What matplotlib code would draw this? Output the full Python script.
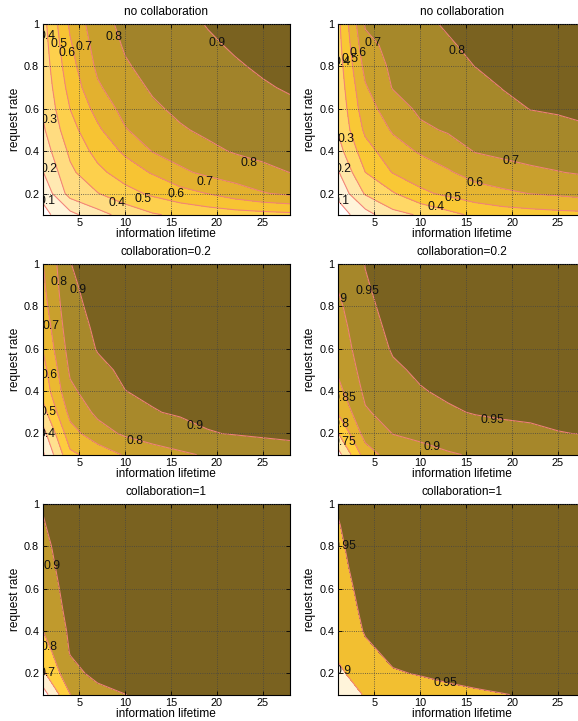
import numpy as np
import matplotlib.pyplot as plt

plt.rcParams['font.family'] = ['Liberation Sans', 'DejaVu Sans']

# grid of the simulation: columns = information lifetime, rows = request rate
lifetime = [1, 4, 7, 10, 13, 16, 19, 22, 25, 28]
request_rate = [0.1, 0.2, 0.3, 0.4, 0.5, 0.6, 0.7, 0.8, 0.9, 1.0]

# hit ratio, no collaboration (left)
hit_nocollab_a = [
    [0.07, 0.17, 0.265, 0.335, 0.39, 0.42, 0.44, 0.455, 0.465, 0.475],
    [0.123, 0.339, 0.396, 0.464, 0.518, 0.563, 0.602, 0.65, 0.693, 0.719],
    [0.194, 0.38, 0.474, 0.549, 0.609, 0.68, 0.723, 0.752, 0.778, 0.801],
    [0.245, 0.419, 0.534, 0.617, 0.704, 0.746, 0.781, 0.807, 0.823, 0.837],
    [0.283, 0.464, 0.582, 0.693, 0.749, 0.791, 0.816, 0.835, 0.851, 0.865],
    [0.309, 0.501, 0.634, 0.733, 0.786, 0.818, 0.839, 0.858, 0.874, 0.888],
    [0.325, 0.534, 0.686, 0.764, 0.811, 0.837, 0.859, 0.877, 0.894, 0.906],
    [0.339, 0.563, 0.719, 0.791, 0.828, 0.854, 0.876, 0.894, 0.908, 0.919],
    [0.351, 0.588, 0.743, 0.809, 0.843, 0.869, 0.891, 0.907, 0.919, 0.93],
    [0.362, 0.617, 0.764, 0.823, 0.856, 0.882, 0.903, 0.917, 0.929, 0.94],
]
# hit ratio, no collaboration (right)
hit_nocollab_b = [
    [0.05, 0.16, 0.27, 0.31, 0.37, 0.42, 0.45, 0.46, 0.47, 0.475],
    [0.123, 0.31, 0.39, 0.48, 0.52, 0.56, 0.58, 0.602, 0.615, 0.635],
    [0.189, 0.40, 0.505, 0.55, 0.59, 0.635, 0.665, 0.685, 0.697, 0.71],
    [0.259, 0.46, 0.56, 0.61, 0.65, 0.705, 0.72, 0.73, 0.74, 0.75],
    [0.306, 0.52, 0.61, 0.68, 0.71, 0.73, 0.75, 0.765, 0.775, 0.79],
    [0.32, 0.56, 0.65, 0.72, 0.74, 0.75, 0.775, 0.802, 0.81, 0.82],
    [0.335, 0.59, 0.705, 0.74, 0.76, 0.77, 0.803, 0.82, 0.83, 0.84],
    [0.348, 0.63, 0.72, 0.755, 0.775, 0.801, 0.82, 0.835, 0.845, 0.855],
    [0.36, 0.67, 0.73, 0.77, 0.79, 0.82, 0.835, 0.85, 0.86, 0.87],
    [0.37, 0.71, 0.74, 0.78, 0.81, 0.83, 0.845, 0.86, 0.87, 0.88],
]
# hit ratio, collaboration=0.2 (left)
hit_collab02_a = [
    [0.28, 0.58, 0.64, 0.71, 0.76, 0.785, 0.81, 0.83, 0.84, 0.85],
    [0.36, 0.66, 0.76, 0.815, 0.84, 0.865, 0.895, 0.905, 0.915, 0.925],
    [0.46, 0.73, 0.82, 0.865, 0.895, 0.91, 0.92, 0.925, 0.93, 0.935],
    [0.53, 0.78, 0.855, 0.899, 0.915, 0.925, 0.93, 0.935, 0.94, 0.945],
    [0.56, 0.815, 0.88, 0.915, 0.93, 0.935, 0.94, 0.945, 0.95, 0.952],
    [0.601, 0.84, 0.905, 0.925, 0.94, 0.945, 0.95, 0.953, 0.955, 0.958],
    [0.63, 0.86, 0.915, 0.935, 0.945, 0.95, 0.955, 0.958, 0.96, 0.962],
    [0.66, 0.875, 0.925, 0.94, 0.95, 0.955, 0.96, 0.962, 0.965, 0.966],
    [0.68, 0.887, 0.932, 0.945, 0.955, 0.96, 0.963, 0.965, 0.968, 0.97],
    [0.695, 0.898, 0.94, 0.95, 0.96, 0.965, 0.967, 0.97, 0.972, 0.974],
]
# hit ratio, collaboration=0.2 (right)
hit_collab02_b = [
    [0.68, 0.825, 0.875, 0.885, 0.895, 0.905, 0.91, 0.915, 0.92, 0.922],
    [0.747, 0.87, 0.901, 0.91, 0.925, 0.935, 0.94, 0.944, 0.949, 0.951],
    [0.803, 0.895, 0.918, 0.935, 0.946, 0.952, 0.955, 0.956, 0.957, 0.958],
    [0.835, 0.91, 0.93, 0.948, 0.955, 0.958, 0.96, 0.961, 0.962, 0.963],
    [0.856, 0.92, 0.945, 0.955, 0.96, 0.962, 0.964, 0.965, 0.966, 0.967],
    [0.868, 0.93, 0.953, 0.96, 0.964, 0.966, 0.967, 0.968, 0.969, 0.97],
    [0.879, 0.936, 0.958, 0.964, 0.967, 0.969, 0.97, 0.971, 0.972, 0.973],
    [0.89, 0.942, 0.962, 0.967, 0.97, 0.972, 0.973, 0.974, 0.975, 0.976],
    [0.903, 0.947, 0.965, 0.97, 0.972, 0.974, 0.975, 0.976, 0.977, 0.978],
    [0.912, 0.951, 0.968, 0.972, 0.974, 0.976, 0.977, 0.978, 0.979, 0.98],
]
# hit ratio, collaboration=1 (left)
hit_collab1_a = [
    [0.55, 0.798, 0.87, 0.899, 0.915, 0.925, 0.932, 0.937, 0.94, 0.943],
    [0.68, 0.87, 0.925, 0.94, 0.95, 0.956, 0.96, 0.963, 0.965, 0.967],
    [0.745, 0.905, 0.94, 0.955, 0.963, 0.967, 0.97, 0.972, 0.974, 0.975],
    [0.798, 0.915, 0.95, 0.962, 0.968, 0.972, 0.974, 0.976, 0.978, 0.979],
    [0.83, 0.925, 0.957, 0.967, 0.972, 0.975, 0.977, 0.979, 0.981, 0.982],
    [0.85, 0.932, 0.962, 0.971, 0.975, 0.978, 0.98, 0.982, 0.983, 0.984],
    [0.865, 0.94, 0.966, 0.974, 0.978, 0.98, 0.982, 0.984, 0.985, 0.986],
    [0.877, 0.948, 0.97, 0.977, 0.98, 0.982, 0.984, 0.986, 0.987, 0.988],
    [0.893, 0.955, 0.973, 0.979, 0.982, 0.984, 0.986, 0.987, 0.988, 0.989],
    [0.905, 0.96, 0.976, 0.981, 0.984, 0.986, 0.987, 0.988, 0.989, 0.99],
]
# hit ratio, collaboration=1 (right)
hit_collab1_b = [
    [0.86, 0.905, 0.925, 0.935, 0.94, 0.945, 0.949, 0.953, 0.955, 0.957],
    [0.89, 0.925, 0.947, 0.952, 0.958, 0.962, 0.965, 0.967, 0.969, 0.97],
    [0.908, 0.942, 0.958, 0.962, 0.965, 0.968, 0.97, 0.972, 0.974, 0.975],
    [0.92, 0.953, 0.963, 0.966, 0.969, 0.972, 0.974, 0.976, 0.977, 0.978],
    [0.928, 0.958, 0.967, 0.97, 0.972, 0.975, 0.977, 0.979, 0.98, 0.981],
    [0.934, 0.962, 0.97, 0.973, 0.975, 0.977, 0.979, 0.981, 0.982, 0.983],
    [0.94, 0.965, 0.972, 0.975, 0.977, 0.979, 0.981, 0.983, 0.984, 0.985],
    [0.944, 0.968, 0.974, 0.977, 0.979, 0.981, 0.983, 0.985, 0.986, 0.987],
    [0.948, 0.97, 0.976, 0.979, 0.981, 0.983, 0.985, 0.986, 0.987, 0.988],
    [0.953, 0.972, 0.978, 0.981, 0.983, 0.985, 0.986, 0.987, 0.988, 0.989],
]

tables = [hit_nocollab_a, hit_nocollab_b, hit_collab02_a, hit_collab02_b,
          hit_collab1_a, hit_collab1_b]
titles = ['no collaboration', 'no collaboration', 'collaboration=0.2',
          'collaboration=0.2', 'collaboration=1', 'collaboration=1']
contour_levels = [
    [0.1, 0.2, 0.3, 0.4, 0.5, 0.6, 0.7, 0.8, 0.9],
    [0.1, 0.2, 0.3, 0.4, 0.5, 0.6, 0.7, 0.8],
    [0.3, 0.4, 0.5, 0.6, 0.7, 0.8, 0.9],
    [0.7, 0.75, 0.8, 0.85, 0.9, 0.95],
    [0.6, 0.7, 0.8, 0.9],
    [0.9, 0.95],
]

# fill colours per panel, lightest band first
band_colors = [
    ['#ffffff', '#fff4da', '#ffe9b2', '#ffdc80', '#fdd04c', '#f7c433',
     '#e3b12f', '#c89f2c', '#a1832a', '#7a6220'],
    ['#ffffff', '#fff4da', '#ffe7a8', '#ffd866', '#f9c835', '#e6b531',
     '#c9a02d', '#a6882a', '#7a6220'],
    ['#ffffff', '#fff2d4', '#ffe08e', '#fdcc3e', '#ebb931', '#c9a02d',
     '#a8892b', '#7a6220'],
    ['#ffffff', '#ffe6a0', '#ffcd3a', '#e5b330', '#bf9a2d', '#a6872a',
     '#7a6220'],
    ['#ffffff', '#fff0d0', '#ffd03f', '#c09a2d', '#7a6220'],
    ['#fff4da', '#f2bf31', '#7a6220'],
]

# where the contour labels sit: (level, lifetime, rate)
label_spots = [
    [(0.1, 1.45, 0.165), (0.2, 1.7, 0.316), (0.3, 1.7, 0.545),
     (0.4, 1.5, 0.943), (0.5, 2.8, 0.905), (0.6, 3.7, 0.861),
     (0.7, 5.5, 0.89), (0.8, 8.75, 0.94), (0.9, 20.0, 0.91),
     (0.8, 23.5, 0.344), (0.7, 18.7, 0.256), (0.6, 15.6, 0.197),
     (0.5, 12.0, 0.173), (0.4, 9.1, 0.157)],
    [(0.1, 1.4, 0.165), (0.2, 1.55, 0.316), (0.3, 1.9, 0.458),
     (0.4, 1.45, 0.821), (0.5, 2.3, 0.837), (0.6, 3.25, 0.864),
     (0.7, 4.8, 0.909), (0.8, 14.0, 0.873), (0.7, 19.9, 0.352),
     (0.6, 16.0, 0.248), (0.5, 13.6, 0.181), (0.4, 11.7, 0.137)],
    [(0.8, 2.8, 0.913), (0.9, 4.9, 0.877), (0.7, 1.9, 0.706),
     (0.6, 1.7, 0.474), (0.5, 1.6, 0.30), (0.4, 1.5, 0.197),
     (0.9, 17.6, 0.233), (0.8, 11.1, 0.165)],
    [(0.95, 4.2, 0.872), (0.9, 1.1, 0.833), (0.85, 1.73, 0.366),
     (0.8, 1.35, 0.245), (0.75, 1.7, 0.162), (0.9, 11.3, 0.137),
     (0.95, 17.9, 0.263)],
    [(0.9, 2.0, 0.707), (0.8, 1.7, 0.326), (0.7, 1.5, 0.203)],
    [(0.95, 1.73, 0.80), (0.9, 1.6, 0.212), (0.95, 12.75, 0.157)],
]

fig = plt.figure(figsize=(5.78, 7.21), dpi=100)
col_left = [0.0737, 0.5844]
row_bottom = [0.7022, 0.3694, 0.0366]
ax_w, ax_h = 0.4284, 0.2645

for i in range(6):
    r, c = divmod(i, 2)
    ax = fig.add_axes([col_left[c], row_bottom[r], ax_w, ax_h])
    Z = np.array(tables[i])
    lev = contour_levels[i]
    ax.contourf(lifetime, request_rate, Z, levels=[0.0] + lev + [1.0],
                colors=band_colors[i])
    ax.contour(lifetime, request_rate, Z, levels=lev,
               colors='#f2817a', linewidths=0.75)
    for value, x, y in label_spots[i]:
        ax.text(x, y, f'{value:g}', fontsize=8.8, ha='center', va='center',
                color='#111111', clip_on=True, zorder=4)

    ax.set_xlim(1, 28)
    ax.set_ylim(0.1, 1)
    ax.set_xticks([5, 10, 15, 20, 25])
    ax.set_yticks([0.2, 0.4, 0.6, 0.8, 1.0])
    ax.set_yticklabels(['0.2', '0.4', '0.6', '0.8', '1'])
    ax.set_axisbelow(False)
    ax.grid(True, linestyle=':', linewidth=0.6, color='#444444')
    ax.tick_params(direction='in', top=True, right=True, length=3,
                   width=0.6, labelsize=7.8, pad=2.5)
    for sp in ax.spines.values():
        sp.set_linewidth(0.8)
    ax.set_title(titles[i], fontsize=8.6, pad=6.5)
    ax.set_xlabel('information lifetime', fontsize=8.6, labelpad=0)
    ax.set_ylabel('request rate', fontsize=8.6, labelpad=2.5)

fig.savefig('out.png', dpi=100)
